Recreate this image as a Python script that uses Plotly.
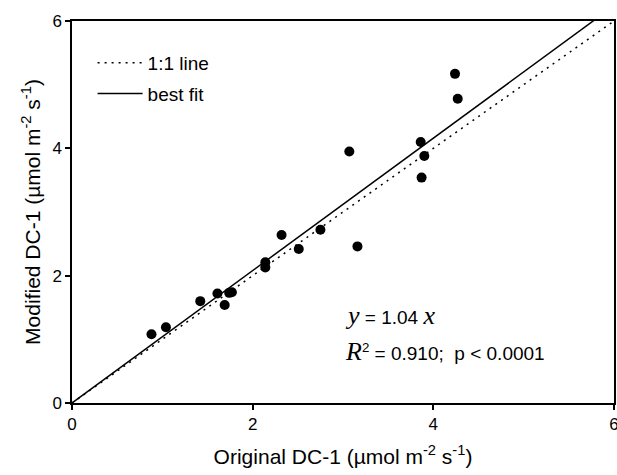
import plotly.graph_objects as go

# Data
original_dc1 = [0.88, 1.04, 1.42, 1.61, 1.69, 1.74, 1.77, 2.14, 2.14, 2.32, 2.51, 2.75,
                3.07, 3.16, 3.86, 3.90, 3.87, 4.24, 4.27]
modified_dc1 = [1.08, 1.19, 1.60, 1.72, 1.54, 1.73, 1.74, 2.21, 2.13, 2.64, 2.42, 2.72,
                3.95, 2.46, 4.10, 3.88, 3.54, 5.17, 4.78]
line_x = [0, 6]
fit_slope = 1.04
tick_vals = [0, 2, 4, 6]

FONT = "Liberation Sans, Arial, sans-serif"

fig = go.Figure()
fig.add_trace(go.Scatter(
    x=line_x, y=line_x, mode="lines", name="1:1 line", legendgroup="a",
    line=dict(color="black", width=1.5, dash="2px,5px")))
fig.add_trace(go.Scatter(
    x=line_x, y=[fit_slope * v for v in line_x], mode="lines", name="best fit",
    legendgroup="b", line=dict(color="black", width=1.5)))
fig.add_trace(go.Scatter(
    x=original_dc1, y=modified_dc1, mode="markers", showlegend=False,
    marker=dict(color="black", size=10)))

axis_common = dict(
    range=[0, 6], tickvals=tick_vals, ticks="outside", ticklen=5, tickwidth=1.5,
    tickcolor="black", showline=True, linecolor="black", linewidth=1.5, mirror=True,
    showgrid=False, zeroline=False, tickfont=dict(family=FONT, size=17, color="black"),
    ticklabeloverflow="allow", automargin=False,
)
fig.update_xaxes(**axis_common,
                 title=dict(text="Original DC-1 (µmol m<sup>-2</sup> s<sup>-1</sup>)",
                            font=dict(family=FONT, size=21, color="black"), standoff=16))
fig.update_yaxes(**axis_common,
                 title=dict(text="Modified DC-1 (µmol m<sup>-2</sup> s<sup>-1</sup>)",
                            font=dict(family=FONT, size=21, color="black"), standoff=6))

SERIF = "font-family:'Liberation Serif', 'Times New Roman', serif;font-size:26px"
fig.add_annotation(x=3.0, y=1.38, xref="x", yref="y", xanchor="left", yanchor="middle",
                   showarrow=False, font=dict(family=FONT, size=19, color="black"),
                   text=f"<span style=\"{SERIF}\"><i>y</i></span> = {fit_slope:.2f} "
                        f"<span style=\"{SERIF}\"><i>x</i></span>")
fig.add_annotation(x=3.0, y=0.81, xref="x", yref="y", xanchor="left", yanchor="middle",
                   showarrow=False, font=dict(family=FONT, size=19, color="black"),
                   text=f"<span style=\"{SERIF}\"><i>R</i></span><sup>2</sup> = 0.910;  p &lt; 0.0001")

fig.update_layout(
    width=617, height=475,
    margin=dict(l=72, r=3, t=21, b=72),
    paper_bgcolor="white", plot_bgcolor="white",
    font=dict(family=FONT, color="black"),
    legend=dict(x=0.038, y=0.94, xanchor="left", yanchor="top", itemwidth=45,
                font=dict(family=FONT, size=19, color="black"),
                bgcolor="rgba(0,0,0,0)", tracegroupgap=3),
)

fig.write_html("out.html")
